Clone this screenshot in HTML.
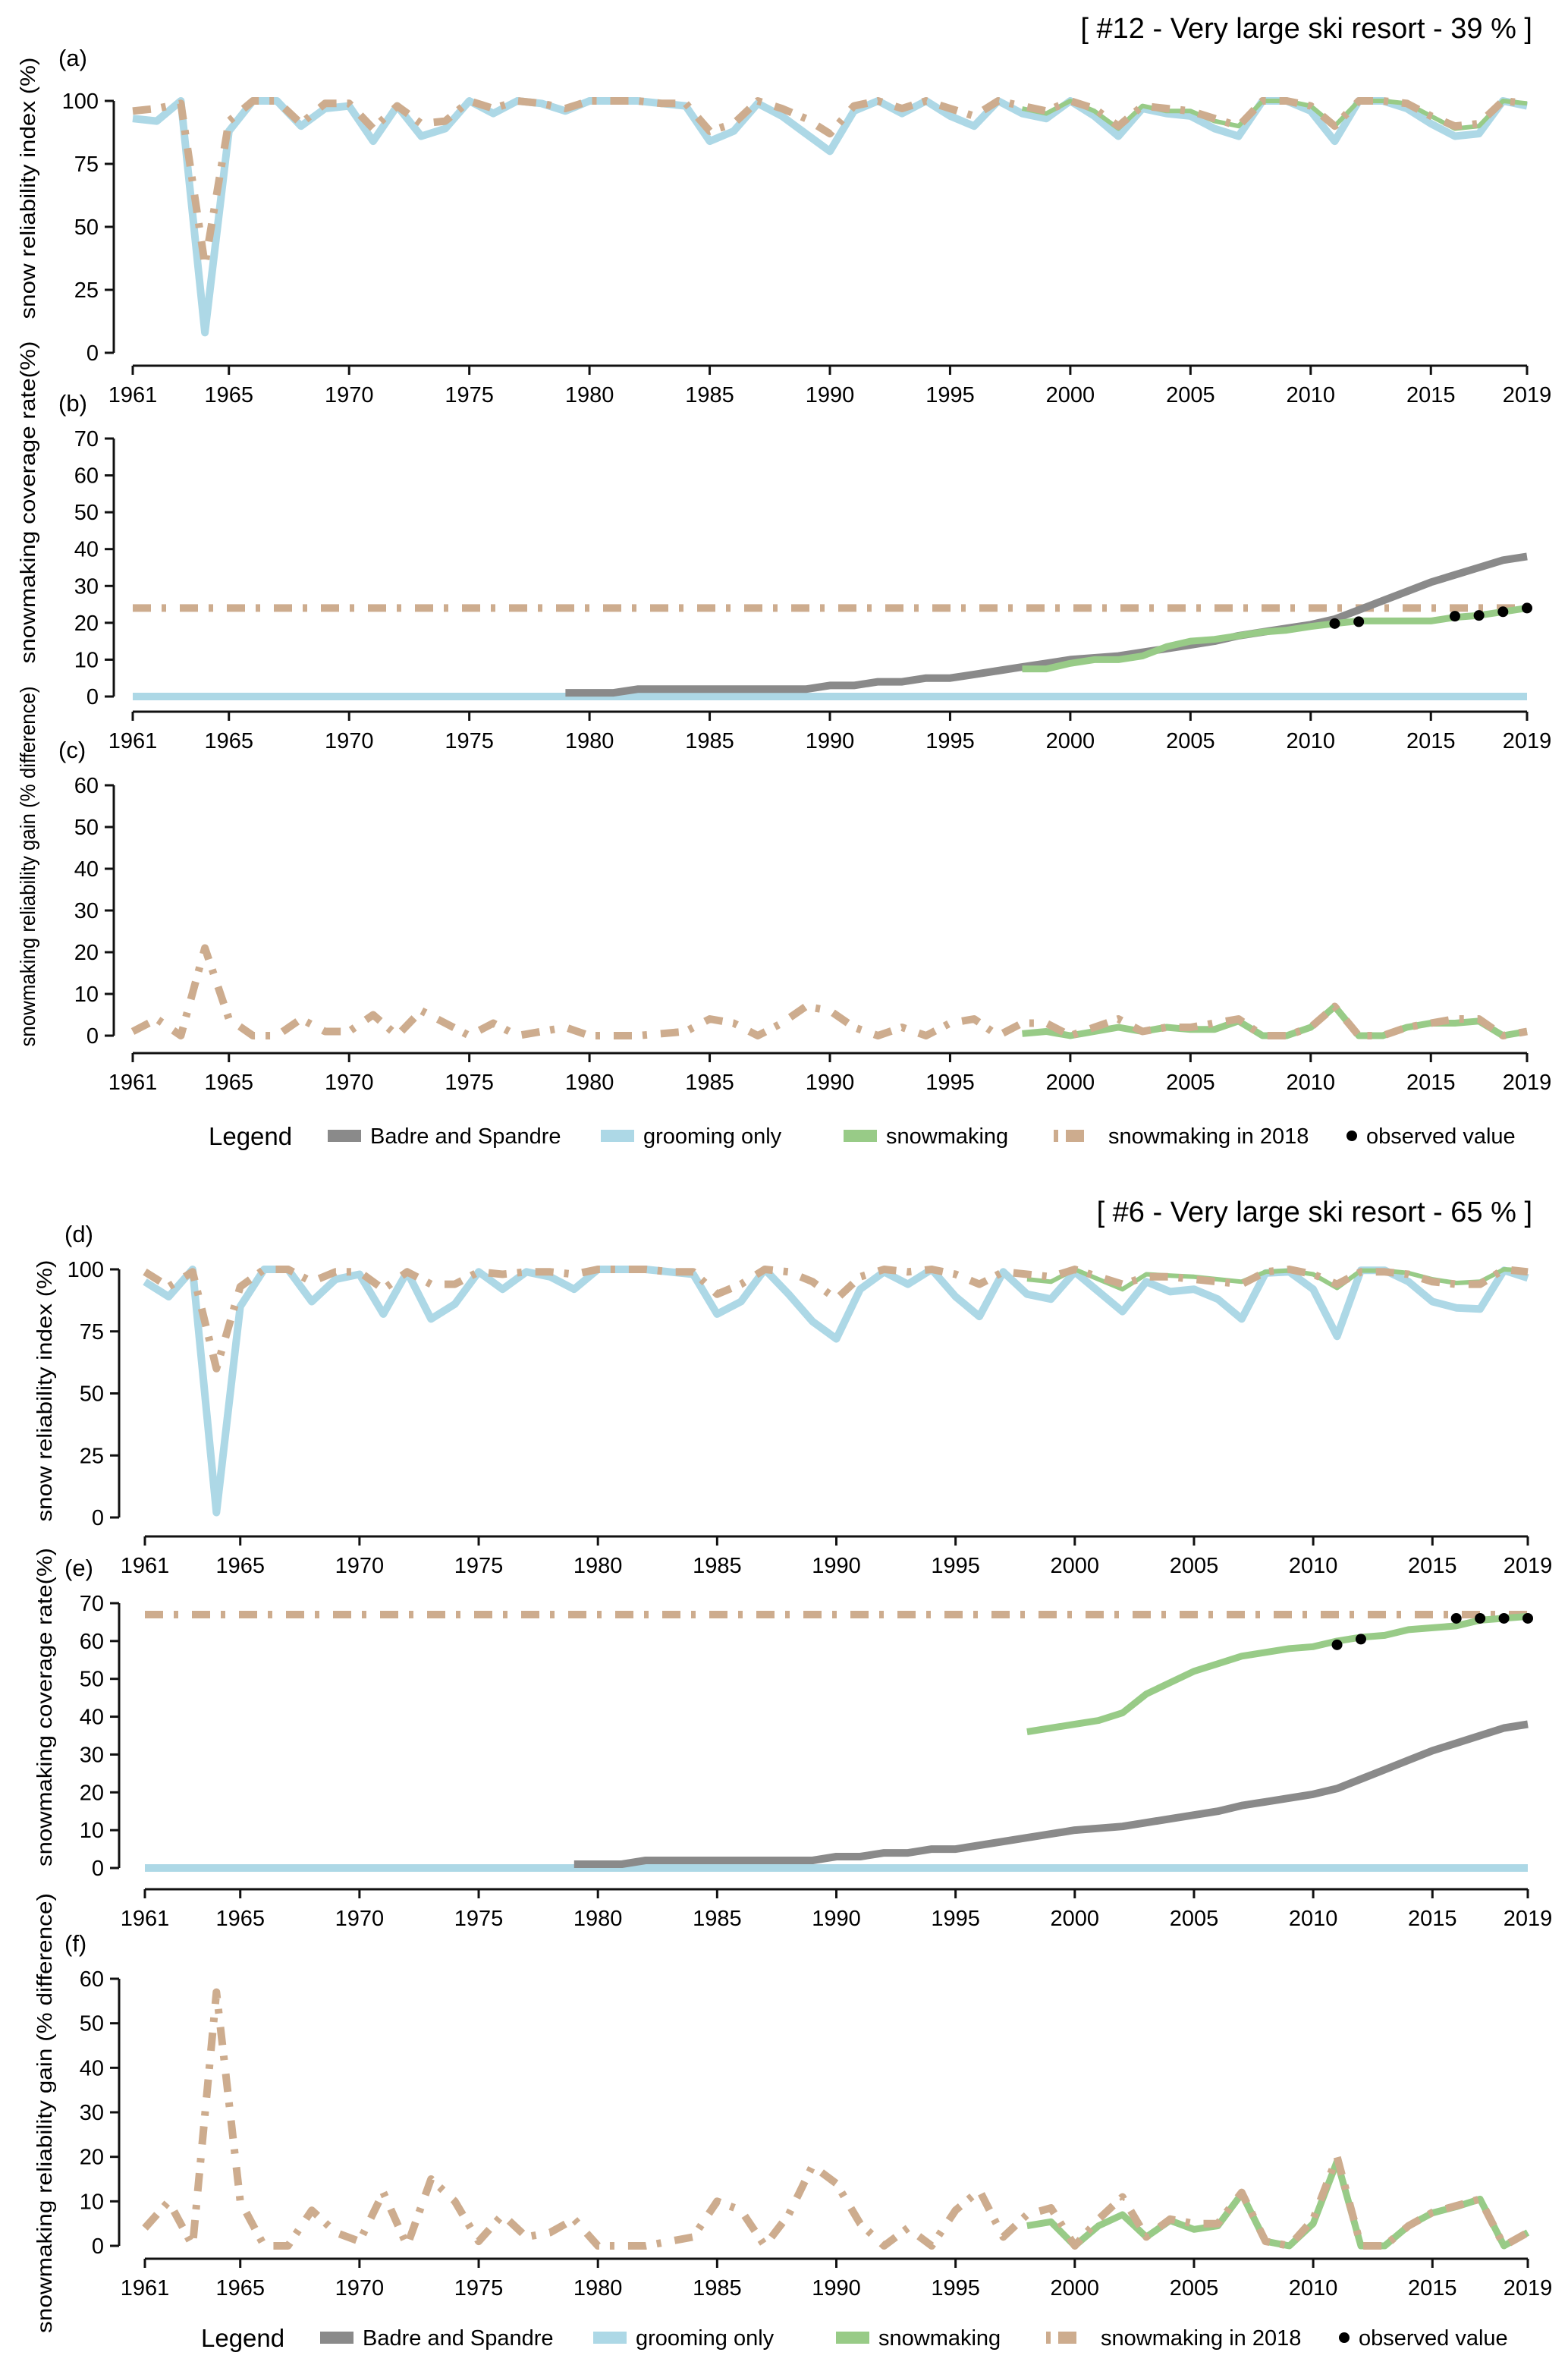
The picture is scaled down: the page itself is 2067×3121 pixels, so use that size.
<!DOCTYPE html>
<html><head><meta charset="utf-8"><style>
html,body{margin:0;padding:0;background:#fff;}
svg{display:block;font-family:"Liberation Sans",Arial,sans-serif;}
</style></head>
<body>
<svg id="fig" width="2067" height="3121" viewBox="0 0 2067 3121" xmlns="http://www.w3.org/2000/svg">
<text x="2020" y="50" text-anchor="end" font-size="38">[ #12 - Very large ski resort - 39 % ]</text>
<text x="2020" y="1610" text-anchor="end" font-size="38">[ #6 - Very large ski resort - 65 % ]</text>
</svg>
<script>
const years = []; for (let y = 1961; y <= 2019; y++) years.push(y);
const xTicks = [1961,1965,1970,1975,1980,1985,1990,1995,2000,2005,2010,2015,2019];
const smYears = []; for (let y = 1998; y <= 2019; y++) smYears.push(y);
const bsYears = []; for (let y = 1979; y <= 2019; y++) bsYears.push(y);
const obsYears = [2011,2012,2016,2017,2018,2019];

// Resort #12
const aGroom = [93,92,100,8,88,100,100,90,97,98,84,98,86,89,100,95,100,99,96,100,100,100,99,98,84,88,99,94,87,80,96,100,95,100,94,90,100,95,93,100,94,86,97,95,94,89,86,100,100,96,84,100,100,97,91,86,87,100,98];
const aSm2018 = [96,97,99,35,92,100,100,91,99,99,89,98,91,92,100,97,100,99,97,100,100,100,99,99,88,91,100,97,93,87,98,100,97,100,97,94,100,98,96,100,97,90,98,97,96,93,90,100,100,98,90,100,100,99,94,90,91,100,99];
const aSnow = [97,95,100,96,89,98,96,96,92,90,100,100,98,90,100,100,99,94,89,90,100,99];
const bBadre = [1,1,1,2,2,2,2,2,2,2,2,3,3,4,4,5,5,6,7,8,9,10,10.5,11,12,13,14,15,16.5,17.5,18.5,19.5,21,23.5,26,28.5,31,33,35,37,38];
const bSnow = [7.5,7.5,9,10,10,11,13.5,15,15.5,16.5,17.5,18,19,19.8,20.5,20.5,20.5,20.5,21.5,22,23,24];
const bSm2018 = 24;
const bObs = [19.8,20.3,21.8,22,23,24];
const cSm2018 = [1,4,0,21,4,0,0,4,1,1,5,0,6,3,0,3,0,1,2,0,0,0,0.5,1,4,3,0,3,7,6,2,0,2,0,3,4,0,3,3,0,2,4,1,2,2,3,4,0,0,2,7,0,0,2,3,4,4,0,1];
const cSnow = [0.5,1,0,1,2,1,2,1.5,1.5,3.5,0,0,2,7,0,0,2,3,3,3.5,0,1];

// Resort #6
const dGroom = [95,89,100,2,85,100,100,87,96,98,82,99,80,86,99,92,99,97,92,100,100,100,99,98,82,87,100,90,79,72,92,99,94,100,89,81,99,90,88,99,91,83,95,91,92,88,80,98.5,99,92,73,99.6,99.6,95,87,84.5,84,99.6,96.5];
const dSm2018 = [99,93,99,60,93,100,100,95,99,99,92,99,94,94,99,98,99,99,98,100,100,100,99,99,90,94,100,99,95,88,97,100,99,100,98,94,99,98,97,100,97,94,97,97,96,95,94,99,100,98,94,99,99,98,95,94,94,100,99];
const dSnow = [96,95,100,96,92,98,97.5,97,96,95,99,99.5,98,92.5,99.5,99.5,98.5,96,94.5,95,100,99.5];
const eBadre = [1,1,1,2,2,2,2,2,2,2,2,3,3,4,4,5,5,6,7,8,9,10,10.5,11,12,13,14,15,16.5,17.5,18.5,19.5,21,23.5,26,28.5,31,33,35,37,38];
const eSnow = [36,37,38,39,41,46,49,52,54,56,57,58,58.5,60,61,61.5,63,63.5,64,65.5,66,66.5];
const eSm2018 = 67;
const eObs = [59,60.5,66,66,66,66];
const fSm2018 = [4,10,0,57,10,0,0,8,3,1,12,0,15,10,1,7,2,3,6,0,0,0,1,2,10,8,0,7,18,14,5,0,4,0,8,12.5,2,7,8.5,0,6,11,2,6,5,5,12,1,0,6,20,0,0,4.5,7.5,9,10.5,0,3];
const fSnow = [4.5,5.4,0,4.5,7,2,5.7,3.7,4.5,11.7,1,0,5,19,0,0,4.5,7.4,8.8,10.5,0,3];

const yTicksA = [0,25,50,75,100];
const yTicksB = [0,10,20,30,40,50,60,70];
const yTicksC = [0,10,20,30,40,50,60];

const C = {blue:'#add8e6', gray:'#8a8a8a', green:'#98cb87', tan:'#cdac8e'};
const NS = 'http://www.w3.org/2000/svg';
const svg = document.getElementById('fig');

function mk(tag, attrs, parent) {
  const e = document.createElementNS(NS, tag);
  for (const k in attrs) e.setAttribute(k, attrs[k]);
  (parent || svg).appendChild(e);
  return e;
}

function panel(p) {
  const g = mk('g', {});
  
  
  const xs = v => p.x0 + (v - 1961) * (p.x1 - p.x0) / 58;
  const ys = v => p.yb + (v - p.vmin) * (p.yt - p.yb) / (p.vmax - p.vmin);
  const ya = mk('line', {x1:p.ax, x2:p.ax, y1:ys(p.ticks[p.ticks.length-1]), y2:ys(p.ticks[0]), stroke:'#111', 'stroke-width':3}, g);
  
  
  p.ticks.forEach(t => {
    mk('line', {x1:p.ax-12, x2:p.ax, y1:ys(t), y2:ys(t), stroke:'#111', 'stroke-width':3}, g);
    const tl = mk('text', {x:p.ax-20, y:ys(t)+10, 'text-anchor':'end', 'font-size':29}, g);
    
    
    tl.textContent = t;
  });
  const xa = mk('line', {x1:xs(1961), x2:xs(2019), y1:p.xa, y2:p.xa, stroke:'#111', 'stroke-width':3}, g);
  
  
  xTicks.forEach(t => {
    mk('line', {x1:xs(t), x2:xs(t), y1:p.xa, y2:p.xa+12, stroke:'#111', 'stroke-width':3}, g);
    const tl = mk('text', {x:xs(t), y:p.xa+48, 'text-anchor':'middle', 'font-size':29}, g);
    
    
    tl.textContent = t;
  });
  const pl = mk('text', {x:p.lx, y:p.labelY, 'font-size':31}, g);
  
  
  pl.textContent = p.letter;
  const yt = mk('text', {x:0, y:0, 'text-anchor':'middle', 'font-size':28, textLength:p.tlen, lengthAdjust:'spacingAndGlyphs', transform:`translate(${p.tx},${p.titleY}) rotate(-90)`}, g);
  
  
  yt.textContent = p.ytitle;
  p.series.forEach(s => {
    const pts = s.vals.map((v,i) => xs(s.yrs[i]).toFixed(1) + ',' + ys(v).toFixed(1)).join(' ');
    const attrs = {points:pts, fill:'none', stroke:s.color, 'stroke-width':s.w, 'stroke-linejoin':'round'};
    if (s.dash) attrs['stroke-dasharray'] = s.dash;
    const pl2 = mk('polyline', attrs, g);
    
    
  });
  if (p.obs) {
    p.obs.forEach((v,i) => {
      const c = mk('circle', {cx:xs(obsYears[i]), cy:ys(v), r:7, fill:'#000'}, g);
      
      
    });
  }
}

const DASH = '24 14 6 18';
const constSeries = v => years.map(() => v);
const zeros = years.map(() => 0);

panel({name:'panel-a', letter:'(a)', lx:77, labelY:87, x0:175, x1:2013, ax:150, yt:133, yb:465, vmin:0, vmax:100, ticks:yTicksA, xa:482, ytitle:'snow reliability index (%)', titleY:248, tx:46, tlen:345,
  series:[
    {name:'grooming-only-line', yrs:years, vals:aGroom, color:C.blue, w:10},
    {name:'snowmaking-line', yrs:smYears, vals:aSnow, color:C.green, w:6},
    {name:'snowmaking-2018-line', yrs:years, vals:aSm2018, color:C.tan, w:10, dash:DASH}
  ]});
panel({name:'panel-b', letter:'(b)', lx:77, labelY:542, x0:175, x1:2013, ax:150, yt:578, yb:918, vmin:0, vmax:70, ticks:yTicksB, xa:938, ytitle:'snowmaking coverage rate(%)', titleY:662, tx:46, tlen:425,
  series:[
    {name:'grooming-only-line', yrs:years, vals:zeros, color:C.blue, w:10},
    {name:'snowmaking-2018-line', yrs:years, vals:constSeries(bSm2018), color:C.tan, w:10, dash:DASH},
    {name:'badre-spandre-line', yrs:bsYears, vals:bBadre, color:C.gray, w:10},
    {name:'snowmaking-line', yrs:smYears, vals:bSnow, color:C.green, w:9}
  ], obs:bObs});
panel({name:'panel-c', letter:'(c)', lx:77, labelY:999, x0:175, x1:2013, ax:150, yt:1035, yb:1365, vmin:0, vmax:60, ticks:yTicksC, xa:1388, ytitle:'snowmaking reliability gain (% difference)', titleY:1142, tx:46, tlen:475,
  series:[
    {name:'snowmaking-line', yrs:smYears, vals:cSnow, color:C.green, w:9},
    {name:'snowmaking-2018-line', yrs:years, vals:cSm2018, color:C.tan, w:10, dash:DASH}
  ]});
panel({name:'panel-d', letter:'(d)', lx:85, labelY:1637, x0:191, x1:2014, ax:157, yt:1673, yb:2000, vmin:0, vmax:100, ticks:yTicksA, xa:2025, ytitle:'snow reliability index (%)', titleY:1833, tx:68, tlen:345,
  series:[
    {name:'grooming-only-line', yrs:years, vals:dGroom, color:C.blue, w:10},
    {name:'snowmaking-line', yrs:smYears, vals:dSnow, color:C.green, w:6},
    {name:'snowmaking-2018-line', yrs:years, vals:dSm2018, color:C.tan, w:10, dash:DASH}
  ]});
panel({name:'panel-e', letter:'(e)', lx:85, labelY:2077, x0:191, x1:2014, ax:157, yt:2113, yb:2462, vmin:0, vmax:70, ticks:yTicksB, xa:2490, ytitle:'snowmaking coverage rate(%)', titleY:2250, tx:68, tlen:420,
  series:[
    {name:'grooming-only-line', yrs:years, vals:zeros, color:C.blue, w:10},
    {name:'snowmaking-2018-line', yrs:years, vals:constSeries(eSm2018), color:C.tan, w:10, dash:DASH},
    {name:'badre-spandre-line', yrs:bsYears, vals:eBadre, color:C.gray, w:10},
    {name:'snowmaking-line', yrs:smYears, vals:eSnow, color:C.green, w:9}
  ], obs:eObs});
panel({name:'panel-f', letter:'(f)', lx:85, labelY:2572, x0:191, x1:2014, ax:157, yt:2608, yb:2960, vmin:0, vmax:60, ticks:yTicksC, xa:2977, ytitle:'snowmaking reliability gain (% difference)', titleY:2785, tx:68, tlen:580,
  series:[
    {name:'snowmaking-line', yrs:smYears, vals:fSnow, color:C.green, w:9},
    {name:'snowmaking-2018-line', yrs:years, vals:fSm2018, color:C.tan, w:10, dash:DASH}
  ]});

function legend(y, dx) {
  const g = mk('g', {});
  
  
  const t = mk('text', {x:275+dx, y:y+12, 'font-size':33}, g);
  
  
  t.textContent = 'Legend';
  const items = [
    {x:432, label:'Badre and Spandre', color:C.gray, name:'legend-badre-spandre'},
    {x:792, label:'grooming only', color:C.blue, name:'legend-grooming-only'},
    {x:1112, label:'snowmaking', color:C.green, name:'legend-snowmaking'},
    {x:1385, label:'snowmaking in 2018', color:C.tan, name:'legend-snowmaking-2018', dash:true}
  ];
  items.forEach(it => {
    const e = mk('g', {}, g);
    
    
    if (it.dash) {
      mk('rect', {x:it.x+dx+4, y:y-8, width:6, height:16, fill:it.color}, e);
      mk('rect', {x:it.x+dx+20, y:y-8, width:24, height:16, fill:it.color}, e);
    } else {
      mk('rect', {x:it.x+dx, y:y-8, width:44, height:16, fill:it.color}, e);
    }
    const tx = mk('text', {x:it.x+dx+(it.dash?76:56), y:y+10, 'font-size':29}, e);
    tx.textContent = it.label;
  });
  const e = mk('g', {}, g);
  
  
  mk('circle', {cx:1782+dx, cy:y, r:7, fill:'#000'}, e);
  const tx = mk('text', {x:1801+dx, y:y+10, 'font-size':29}, e);
  tx.textContent = 'observed value';
}
legend(1497, 0);
legend(3081, -10);
</script>
</body></html>
